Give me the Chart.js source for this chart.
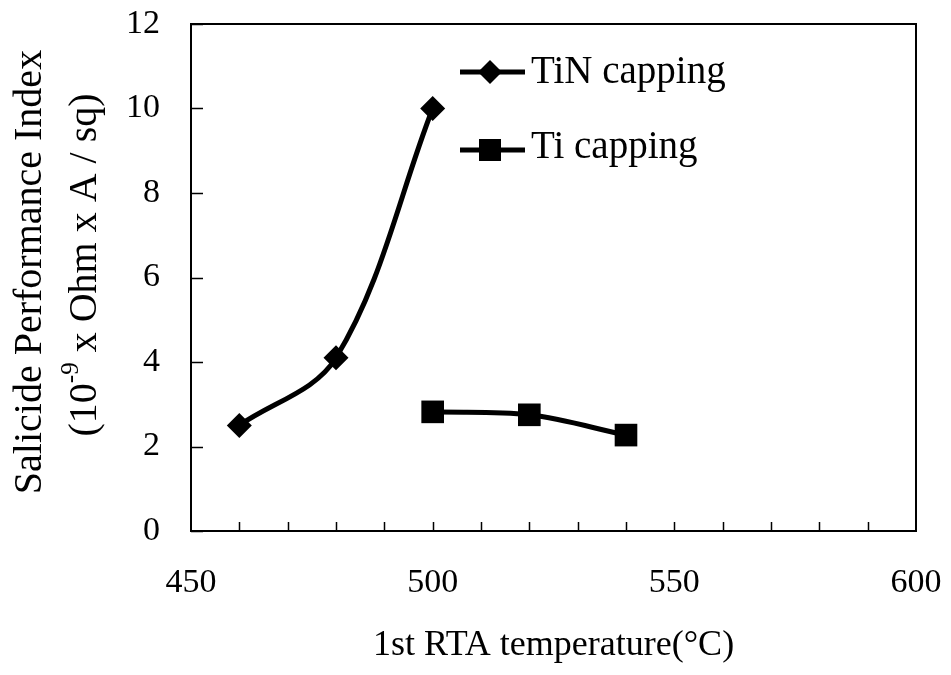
<!DOCTYPE html>
<html>
<head>
<meta charset="utf-8">
<script src="https://cdn.jsdelivr.net/npm/chart.js@4.4.0/dist/chart.umd.min.js"></script>
<style>
  html, body { margin: 0; padding: 0; background: #fff; }
  #wrap { width: 951px; height: 675px; }
</style>
</head>
<body>
<div id="wrap"><canvas id="chart"></canvas></div>
<script>
// data
const tinTemps = [460, 480, 500];
const tinValues = [2.5, 4.1, 10.0];
const tiTemps = [500, 520, 540];
const tiValues = [2.82, 2.75, 2.27];

const xTicks = [450, 500, 550, 600];
const xMinorTicks = [460, 470, 480, 490, 500, 510, 520, 530, 540, 550, 560, 570, 580, 590];
const yTicks = [0, 2, 4, 6, 8, 10, 12];

const seriesNames = ["TiN capping", "Ti capping"];
const xTitle = "1st RTA temperature(\u00B0C)";
const yTitleLine1 = "Salicide Performance Index";
const yTitleLine2 = ["(10", "-9", " x Ohm x A / sq)"];

const FONT = '"Liberation Serif", "Times New Roman", serif';

// box, inner tick marks
const framePlugin = {
    id: "frame",
    beforeDatasetsDraw(chart) {
        const { ctx, chartArea: a, scales: { x, y } } = chart;
        ctx.save();
        ctx.strokeStyle = "#000";
        ctx.lineWidth = 2;
        ctx.strokeRect(a.left, a.top, a.right - a.left, a.bottom - a.top);
        ctx.lineWidth = 1.5;
        ctx.beginPath();
        xMinorTicks.forEach(v => {
            const px = Math.round(x.getPixelForValue(v)) + 0.5;
            ctx.moveTo(px, a.bottom);
            ctx.lineTo(px, a.bottom - 9);
        });
        yTicks.forEach(v => {
            const py = Math.round(y.getPixelForValue(v)) + 0.5;
            ctx.moveTo(a.left, py);
            ctx.lineTo(a.left + 12, py);
        });
        ctx.stroke();
        ctx.restore();
    }
};

// legend: line with marker, then label
const legendPlugin = {
    id: "customLegend",
    afterDatasetsDraw(chart) {
        const ctx = chart.ctx;
        const rows = [72, 150];
        const baselines = [83, 158];
        ctx.save();
        chart.data.datasets.forEach((ds, i) => {
            const yy = rows[i];
            ctx.strokeStyle = "#000";
            ctx.lineWidth = 5;
            ctx.beginPath();
            ctx.moveTo(460, yy);
            ctx.lineTo(525, yy);
            ctx.stroke();
            ctx.fillStyle = "#000";
            ctx.beginPath();
            if (ds.pointStyle === "rectRot") {
                const r = 12;
                ctx.moveTo(490, yy - r);
                ctx.lineTo(490 + r, yy);
                ctx.lineTo(490, yy + r);
                ctx.lineTo(490 - r, yy);
                ctx.closePath();
            } else {
                ctx.rect(490 - 11, yy - 11, 22, 22);
            }
            ctx.fill();
            ctx.font = "39px " + FONT;
            ctx.textBaseline = "alphabetic";
            ctx.textAlign = "left";
            ctx.fillText(ds.label, 531, baselines[i]);
        });
        ctx.restore();
    }
};

// rotated two-line y title with superscript
const yTitlePlugin = {
    id: "yTitle",
    afterDraw(chart) {
        const ctx = chart.ctx;
        const big = "40px " + FONT, small = "25px " + FONT;
        ctx.save();
        ctx.fillStyle = "#000";
        ctx.textBaseline = "middle";

        ctx.save();
        ctx.translate(30, 272);
        ctx.rotate(-Math.PI / 2);
        ctx.textAlign = "center";
        ctx.font = big;
        ctx.fillText(yTitleLine1, 0, 0);
        ctx.restore();

        ctx.translate(85, 265);
        ctx.rotate(-Math.PI / 2);
        ctx.font = big;
        const w1 = ctx.measureText(yTitleLine2[0]).width;
        const w3 = ctx.measureText(yTitleLine2[2]).width;
        ctx.font = small;
        const w2 = ctx.measureText(yTitleLine2[1]).width;
        let sx = -(w1 + w2 + w3) / 2;
        ctx.textAlign = "left";
        ctx.font = big;
        ctx.fillText(yTitleLine2[0], sx, 0);
        sx += w1;
        ctx.font = small;
        ctx.fillText(yTitleLine2[1], sx, -14);
        sx += w2;
        ctx.font = big;
        ctx.fillText(yTitleLine2[2], sx, 0);
        ctx.restore();
    }
};

function fixBox(size, key) {
    return s => {
        s[key] = size;
        s.paddingTop = 0;
        s.paddingBottom = 0;
        s.paddingLeft = 0;
        s.paddingRight = 0;
    };
}

new Chart(document.getElementById("chart"), {
    type: "line",
    data: {
        datasets: [{
            label: seriesNames[0],
            data: tinTemps.map((t, i) => ({ x: t, y: tinValues[i] })),
            borderColor: "#000",
            backgroundColor: "#000",
            borderWidth: 5,
            pointStyle: "rectRot",
            pointRadius: 12.5,
            pointBackgroundColor: "#000",
            pointBorderWidth: 0,
            tension: 0.35,
            clip: false
        }, {
            label: seriesNames[1],
            data: tiTemps.map((t, i) => ({ x: t, y: tiValues[i] })),
            borderColor: "#000",
            backgroundColor: "#000",
            borderWidth: 5,
            pointStyle: "rect",
            pointRadius: 16,
            pointBackgroundColor: "#000",
            pointBorderWidth: 0,
            tension: 0.35,
            clip: false
        }]
    },
    options: {
        responsive: true,
        maintainAspectRatio: false,
        animation: false,
        layout: { padding: { top: 24, right: 35, left: 0, bottom: 0 } },
        plugins: {
            legend: { display: false },
            tooltip: { enabled: false }
        },
        scales: {
            x: {
                type: "linear",
                min: 450,
                max: 600,
                afterBuildTicks: s => { s.ticks = xTicks.map(v => ({ value: v })); },
                afterFit: fixBox(144, "height"),
                ticks: {
                    color: "#000",
                    font: { family: FONT, size: 34 },
                    padding: 32,
                    maxRotation: 0
                },
                grid: { display: true, drawOnChartArea: false, drawTicks: false },
                border: { display: true, color: "#000", width: 2 },
                title: {
                    display: true,
                    text: xTitle,
                    color: "#000",
                    font: { family: FONT, size: 36 },
                    padding: { top: 0, bottom: 8 }
                }
            },
            y: {
                type: "linear",
                min: 0,
                max: 12,
                afterBuildTicks: s => { s.ticks = yTicks.map(v => ({ value: v })); },
                afterFit: fixBox(191, "width"),
                ticks: {
                    color: "#000",
                    font: { family: FONT, size: 34 },
                    padding: 31
                },
                grid: { display: true, drawOnChartArea: false, drawTicks: false },
                border: { display: true, color: "#000", width: 2 }
            }
        }
    },
    plugins: [framePlugin, legendPlugin, yTitlePlugin]
});
</script>
</body>
</html>
